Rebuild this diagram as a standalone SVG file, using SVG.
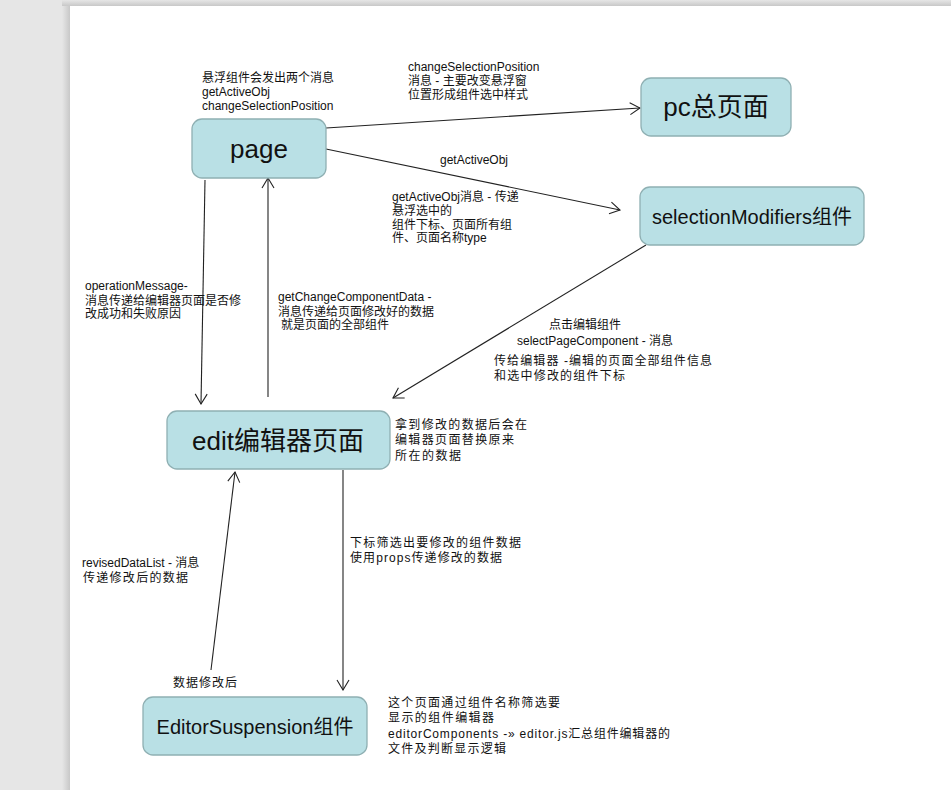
<svg xmlns="http://www.w3.org/2000/svg" width="951" height="790" viewBox="0 0 951 790">
<defs>
<marker id="arr" viewBox="0 0 12 14" refX="11" refY="7" markerWidth="12" markerHeight="14" markerUnits="userSpaceOnUse" orient="auto">
<path d="M1,1 L11,7 L1,13" fill="none" stroke="#222" stroke-width="1.1"/>
</marker>
<linearGradient id="shL" x1="0" x2="1" y1="0" y2="0">
<stop offset="0" stop-color="#e6e6e6"/><stop offset="1" stop-color="#c8c8c8"/>
</linearGradient>
<linearGradient id="shT" x1="0" x2="0" y1="0" y2="1">
<stop offset="0" stop-color="#e6e6e6"/><stop offset="1" stop-color="#c8c8c8"/>
</linearGradient>
</defs>
<style>
.node rect{fill:#b9e0e5;stroke:#8fb0b3;stroke-width:1.3}
.nt{font-family:"Liberation Sans","Noto Sans CJK SC",sans-serif;fill:#111;text-anchor:middle}
.lb{font-family:"Liberation Sans","Noto Sans CJK SC",sans-serif;font-size:12px;fill:#111}
.conn line{stroke:#222;stroke-width:1.1;fill:none}
</style>
<rect x="0" y="0" width="951" height="790" fill="#e6e6e6"/>
<rect x="62" y="0" width="8" height="790" fill="url(#shL)"/>
<rect x="62" y="0" width="889" height="6" fill="url(#shT)"/>
<rect x="70" y="6" width="881" height="784" fill="#ffffff"/>

<g id="connectors" class="conn">
<line x1="326" y1="128" x2="640" y2="108" marker-end="url(#arr)"/>
<line x1="326" y1="149" x2="620" y2="210" marker-end="url(#arr)"/>
<line x1="205" y1="180" x2="201" y2="404" marker-end="url(#arr)"/>
<line x1="268" y1="397" x2="268" y2="178" marker-end="url(#arr)"/>
<line x1="646" y1="245" x2="393" y2="398" marker-end="url(#arr)"/>
<line x1="343" y1="470" x2="343" y2="690" marker-end="url(#arr)"/>
<line x1="211" y1="670" x2="235" y2="472" marker-end="url(#arr)"/>
</g>

<g id="node-page" class="node">
<rect x="192" y="119" width="134" height="59" rx="10"/>
<text class="nt" x="259" y="158" font-size="26">page</text>
</g>
<g id="node-pc" class="node">
<rect x="641" y="78" width="150" height="58" rx="10"/>
<text class="nt" x="716" y="116" font-size="26">pc总页面</text>
</g>
<g id="node-selection" class="node">
<rect x="640" y="187" width="224" height="58" rx="10"/>
<text class="nt" x="752" y="224" font-size="20">selectionModifiers组件</text>
</g>
<g id="node-edit" class="node">
<rect x="167" y="411" width="223" height="58" rx="10"/>
<text class="nt" x="278" y="450" font-size="26">edit编辑器页面</text>
</g>
<g id="node-suspension" class="node">
<rect x="143" y="697" width="224" height="58" rx="10"/>
<text class="nt" x="255" y="734" font-size="20">EditorSuspension组件</text>
</g>

<g id="labels">
<text class="lb" x="202" y="82">悬浮组件会发出两个消息</text>
<text class="lb" x="202" y="96">getActiveObj</text>
<text class="lb" x="202" y="110">changeSelectionPosition</text>

<text class="lb" x="408" y="71">changeSelectionPosition</text>
<text class="lb" x="408" y="85">消息 - 主要改变悬浮窗</text>
<text class="lb" x="408" y="99">位置形成组件选中样式</text>

<text class="lb" x="440" y="164">getActiveObj</text>

<text class="lb" x="392" y="201">getActiveObj消息 - 传递</text>
<text class="lb" x="392" y="215">悬浮选中的</text>
<text class="lb" x="392" y="229">组件下标、页面所有组</text>
<text class="lb" x="392" y="242">件、页面名称type</text>

<text class="lb" x="85" y="290">operationMessage-</text>
<text class="lb" x="85" y="305">消息传递给编辑器页面是否修</text>
<text class="lb" x="85" y="318">改成功和失败原因</text>

<text class="lb" x="278" y="301">getChangeComponentData -</text>
<text class="lb" x="278" y="316">消息传递给页面修改好的数据</text>
<text class="lb" x="281" y="329">就是页面的全部组件</text>

<text class="lb" x="549" y="329">点击编辑组件</text>
<text class="lb" x="517" y="345">selectPageComponent - 消息</text>
<text class="lb" x="494" y="365" textLength="218" lengthAdjust="spacing">传给编辑器 -编辑的页面全部组件信息</text>
<text class="lb" x="494" y="380" textLength="131" lengthAdjust="spacing">和选中修改的组件下标</text>

<text class="lb" x="395" y="429" textLength="132" lengthAdjust="spacing">拿到修改的数据后会在</text>
<text class="lb" x="395" y="444" textLength="119" lengthAdjust="spacing">编辑器页面替换原来</text>
<text class="lb" x="395" y="460" textLength="66" lengthAdjust="spacing">所在的数据</text>

<text class="lb" x="350" y="547" textLength="171" lengthAdjust="spacing">下标筛选出要修改的组件数据</text>
<text class="lb" x="350" y="562" textLength="152" lengthAdjust="spacing">使用props传递修改的数据</text>

<text class="lb" x="82" y="567">revisedDataList - 消息</text>
<text class="lb" x="83" y="582" textLength="105" lengthAdjust="spacing">传递修改后的数据</text>

<text class="lb" x="173" y="687" textLength="64" lengthAdjust="spacing">数据修改后</text>

<text class="lb" x="388" y="707" textLength="172" lengthAdjust="spacing">这个页面通过组件名称筛选要</text>
<text class="lb" x="388" y="722" textLength="106" lengthAdjust="spacing">显示的组件编辑器</text>
<text class="lb" x="388" y="738" textLength="282" lengthAdjust="spacing">editorComponents -» editor.js汇总组件编辑器的</text>
<text class="lb" x="388" y="753" textLength="118" lengthAdjust="spacing">文件及判断显示逻辑</text>
</g>
</svg>
